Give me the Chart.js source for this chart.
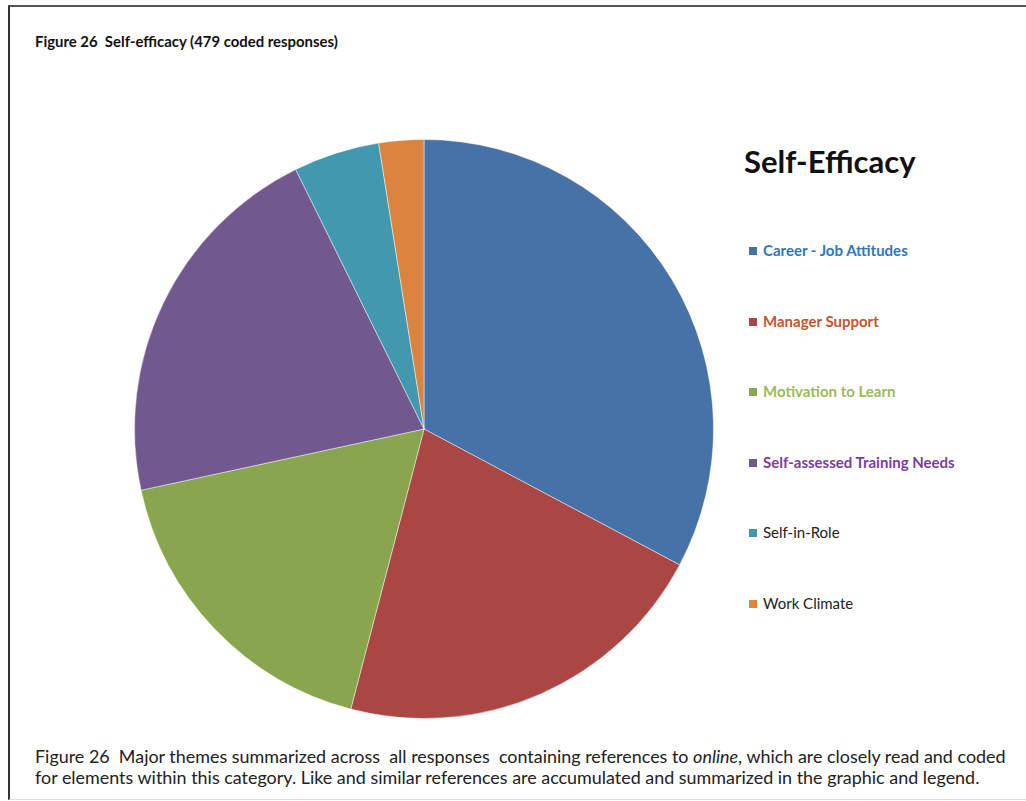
<!DOCTYPE html>
<html>
<head>
<meta charset="utf-8">
<script src="https://cdn.jsdelivr.net/npm/chart.js@4.4.0/dist/chart.umd.min.js"></script>
<style>
  body { margin: 0; background: #fff; width: 1026px; height: 801px; overflow: hidden; position: relative; font-family: "Lato", sans-serif; }
  #frame { position: absolute; left: 8px; top: 5px; width: 1030px; height: 792px; border-top: 2px solid #555; border-left: 2px solid #333; border-bottom: 1px solid #ddd; }
  #fig-title { position: absolute; left: 35px; top: 32px; font-size: 14.9px; font-weight: bold; color: #111; white-space: nowrap; }
  #chart-wrap { position: absolute; left: 134px; top: 139px; width: 580px; height: 580px; }
  #legend-title { position: absolute; left: 744px; top: 142px; font-size: 31px; font-weight: bold; color: #111; white-space: nowrap; }
  #legend { position: absolute; left: 749px; top: 241px; }
  .item { position: absolute; left: 0; white-space: nowrap; font-size: 15px; line-height: 18px; }
  .item span.box { display: inline-block; width: 8px; height: 8px; margin-right: 6px; vertical-align: 1px; }
  #caption { position: absolute; left: 35px; top: 747px; font-size: 16.5px; line-height: 21px; color: #222; white-space: nowrap; transform-origin: 0 0; transform: scaleX(1.086); }
</style>
</head>
<body>
<div id="frame"></div>
<div id="fig-title">Figure 26&nbsp; Self-efficacy (479 coded responses)</div>
<div id="chart-wrap"><canvas id="myChart" width="580" height="580"></canvas></div>
<div id="legend-title">Self-Efficacy</div>
<div id="legend"></div>
<div id="caption">Figure 26&nbsp; Major themes summarized across&nbsp; all responses&nbsp; containing references to <i>online</i>, which are closely read and coded<br>for elements within this category. Like and similar references are accumulated and summarized in the graphic and legend.</div>

<script>
var labels = [
  "Career - Job Attitudes",
  "Manager Support",
  "Motivation to Learn",
  "Self-assessed Training Needs",
  "Self-in-Role",
  "Work Climate",
];
var counts = [157, 102, 84, 101, 23, 12];
var sliceColors = ["#4672a8", "#aa4644", "#89a54e", "#71588f", "#4198af", "#db843d"];
var labelColors = ["#2f78be", "#c8532d", "#9bbb59", "#7a3ea3", "#222222", "#222222"];
var labelBold = [true, true, true, true, false, false];

var ctx = document.getElementById("myChart").getContext("2d");
var newChart = new Chart(ctx, {
  type: "pie",
  data: {
    labels: labels,
    datasets: [
      {
        data: counts,
        backgroundColor: sliceColors,
        borderColor: "rgba(255, 255, 255, 0.45)",
        borderWidth: 1,
        hoverOffset: 0,
        offset: 0,
      },
    ],
  },
  options: {
    responsive: false,
    animation: false,
    layout: { padding: 0 },
    plugins: {
      legend: { display: false },
      tooltip: { enabled: false },
    },
  },
});

// legend built from the same arrays
var legend = document.getElementById("legend");
labels.forEach(function (name, i) {
  var row = document.createElement("div");
  row.className = "item";
  row.style.top = i * 70.6 + "px";
  row.style.color = labelColors[i];
  row.style.fontWeight = labelBold[i] ? "bold" : "normal";
  row.innerHTML = '<span class="box" style="background:' + sliceColors[i] + '"></span>' + name;
  legend.appendChild(row);
});
</script>
</body>
</html>
